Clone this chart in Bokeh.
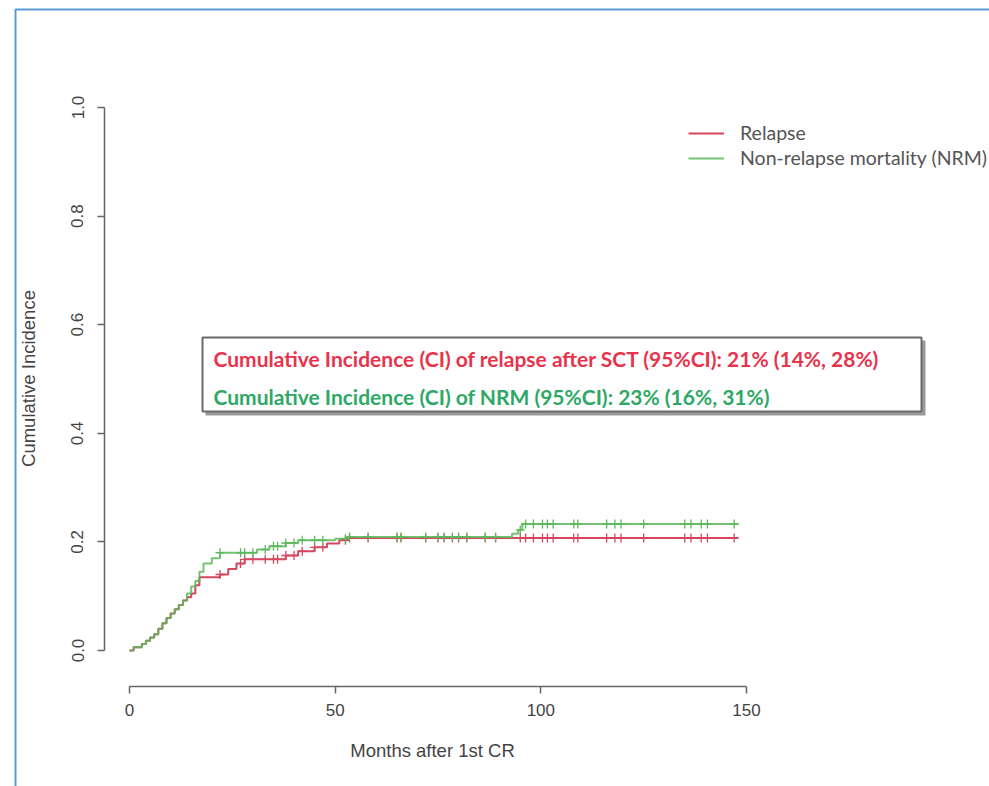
import numpy as np
from bokeh.plotting import figure
from bokeh.models import (Range1d, FixedTicker, PrintfTickFormatter, Label,
                          BoxAnnotation, Legend, LegendItem, LinearAxis)
from bokeh.embed import file_html
from bokeh.resources import INLINE

# ---------------- data ----------------
rel_times = [0, 1, 3, 4, 5, 6, 7, 8, 9, 10, 11, 12, 13, 14, 15, 16, 17,
             22, 24, 26, 28, 38, 41, 45, 48, 51, 53, 148]
rel_cif = [0, 0.006, 0.012, 0.018, 0.024, 0.030, 0.040, 0.050, 0.060, 0.068,
           0.076, 0.084, 0.092, 0.098, 0.105, 0.120, 0.135, 0.140, 0.150,
           0.160, 0.168, 0.175, 0.183, 0.190, 0.197, 0.203, 0.207, 0.207]

nrm_times = [0, 1, 3, 4, 5, 6, 7, 8, 9, 10, 11, 12, 13, 14, 15, 16, 17, 18,
             20, 22, 31, 34, 38, 41, 50, 53, 93, 94.5, 95.5, 148]
nrm_cif = [0, 0.006, 0.012, 0.018, 0.024, 0.030, 0.040, 0.050, 0.060, 0.068,
           0.076, 0.084, 0.092, 0.105, 0.118, 0.128, 0.145, 0.160, 0.170,
           0.180, 0.186, 0.192, 0.198, 0.203, 0.206, 0.209, 0.215, 0.222,
           0.233, 0.233]

censor_times = [22, 27, 28, 30, 33, 35, 36, 38, 40, 42, 45, 47, 52.5, 53.5,
                58, 65, 66, 72, 75, 76.5, 78.5, 80, 82, 86.5, 89, 95, 96.3,
                98.2, 100.4, 101.6, 103, 108, 109, 116, 118, 119.5, 125, 135,
                136.5, 139, 140.5, 147]

x_ticks = [0, 50, 100, 150]
y_ticks = [0.0, 0.2, 0.4, 0.6, 0.8, 1.0]

series_names = ["Relapse", "Non-relapse mortality (NRM)"]
box_lines = ["Cumulative Incidence (CI) of relapse after SCT (95%CI): 21% (14%, 28%)",
             "Cumulative Incidence (CI) of NRM (95%CI): 23% (16%, 31%)"]
x_title = "Months after 1st CR"
y_title = "Cumulative Incidence"

# ---------------- layout helpers (pixel -> data) ----------------
PX_X0, PX_X150 = 129.0, 746.0
PX_Y0, PX_Y1 = 650.0, 107.0
sx = (PX_X150 - PX_X0) / 150.0
sy = (PX_Y0 - PX_Y1)


def dx(px):
    return (px - PX_X0) / sx


def dy(py):
    return (PX_Y0 - py) / sy


W, H = 989, 786
AX_L, AX_B = 104, 686

RED = "#d4475f"
GREEN = "#5cb85c"

p = figure(width=W, height=H, output_backend="svg", toolbar_location=None,
           x_range=Range1d(dx(0), dx(W)), y_range=Range1d(dy(H), dy(0)),
           x_axis_location=None, y_axis_location=None,
           min_border_left=0, min_border_right=0, min_border_top=0,
           min_border_bottom=0)
p.grid.visible = False
p.outline_line_color = None
p.background_fill_color = "white"
p.border_fill_color = "white"

xaxis = LinearAxis(fixed_location=dy(AX_B), ticker=FixedTicker(ticks=x_ticks),
                   bounds=(x_ticks[0], x_ticks[-1]))
yaxis = LinearAxis(fixed_location=dx(AX_L), ticker=FixedTicker(ticks=y_ticks),
                   bounds=(y_ticks[0], y_ticks[-1]),
                   formatter=PrintfTickFormatter(format="%.1f"))
for ax in (xaxis, yaxis):
    ax.axis_line_color = "#666666"
    ax.axis_line_width = 1.5
    ax.major_tick_line_color = "#666666"
    ax.major_tick_line_width = 1.5
    ax.major_tick_out = 7
    ax.major_tick_in = 0
    ax.minor_tick_line_color = None
    ax.major_label_text_font = "Liberation Sans"
    ax.major_label_text_font_size = "17px"
    ax.major_label_text_color = "#444444"
xaxis.major_label_standoff = 10
yaxis.major_label_orientation = "parallel"
yaxis.major_label_standoff = 14
p.add_layout(xaxis, "below")
p.add_layout(yaxis, "left")

# curves
r_rel = p.step(rel_times, rel_cif, mode="after", line_color=RED, line_width=2)
r_nrm = p.step(nrm_times, nrm_cif, mode="after", line_color=GREEN, line_width=2,
               line_alpha=0.85)


def at(times, vals, ts):
    t = np.asarray(times)
    v = np.asarray(vals)
    idx = np.searchsorted(t, np.asarray(ts), side="right") - 1
    return v[idx]


p.scatter(censor_times, at(rel_times, rel_cif, censor_times), marker="cross",
          size=9, line_color=RED, line_width=1.3)
p.scatter(censor_times, at(nrm_times, nrm_cif, censor_times), marker="cross",
          size=9, line_color=GREEN, line_width=1.3)

# legend (location measured from the bottom-left of the canvas-wide frame)
legend = Legend(items=[LegendItem(label=series_names[0], renderers=[r_rel]),
                       LegendItem(label=series_names[1], renderers=[r_nrm])],
                location=(688, H - 169), orientation="vertical",
                padding=0, margin=0, spacing=2, glyph_width=36, glyph_height=22,
                label_height=22, label_standoff=16,
                label_text_font="Lato", label_text_font_size="19.5px",
                label_text_color="#555555", border_line_color=None,
                background_fill_alpha=0)
p.add_layout(legend, "center")

# annotation box (shadow + box)
p.add_layout(BoxAnnotation(left=dx(205), right=dx(925), top=dy(340), bottom=dy(415),
                           fill_color="#9a9a9a", fill_alpha=1, line_color=None))
p.add_layout(BoxAnnotation(left=dx(202), right=dx(921), top=dy(337), bottom=dy(411),
                           fill_color="white", fill_alpha=1, line_color="#6a6a6a",
                           line_alpha=1, line_width=2))
p.add_layout(Label(x=dx(213), y=dy(358), text=box_lines[0], text_color="#e8334c",
                   text_font="Lato", text_font_style="bold",
                   text_font_size="21px", text_baseline="middle"))
p.add_layout(Label(x=dx(213), y=dy(396), text=box_lines[1], text_color="#2ea866",
                   text_font="Lato", text_font_style="bold",
                   text_font_size="21px", text_baseline="middle"))

# axis titles
p.add_layout(Label(x=dx(432), y=dy(750), text=x_title, text_align="center",
                   text_baseline="middle", text_font="Liberation Sans",
                   text_font_size="18.5px", text_color="#444444"))
p.add_layout(Label(x=dx(28), y=dy(378), text=y_title, text_align="center",
                   text_baseline="middle", angle=np.pi / 2,
                   text_font="Liberation Sans", text_font_size="18.5px",
                   text_color="#444444"))

# blue outer frame
p.add_layout(BoxAnnotation(left=dx(15), right=dx(W + 20), top=dy(9), bottom=dy(H + 20),
                           fill_alpha=0, line_color="#5b9bd5", line_alpha=1,
                           line_width=2))

open("out.html", "w").write(file_html(p, INLINE))
